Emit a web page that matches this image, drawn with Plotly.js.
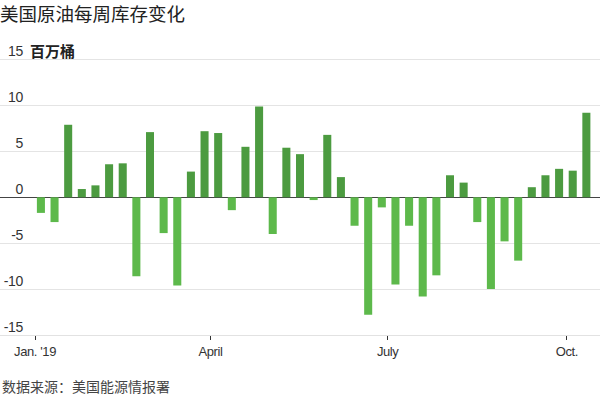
<!DOCTYPE html>
<html>
<head>
<meta charset="utf-8">
<script src="https://cdn.plot.ly/plotly-3.0.1.min.js"></script>
<style>
  html, body { margin: 0; padding: 0; background: #fff; }
  #chart { width: 600px; height: 399px; }
  #chart .xtick text { letter-spacing: -0.4px; }
  #chart .y2tick text { letter-spacing: -0.3px; }
</style>
</head>
<body>
<div id="chart"></div>
<script>
// Week-ending dates (EIA weekly report)
const weeks = [
  '2019-01-04','2019-01-11','2019-01-18','2019-01-25',
  '2019-02-01','2019-02-08','2019-02-15','2019-02-22',
  '2019-03-01','2019-03-08','2019-03-15','2019-03-22','2019-03-29',
  '2019-04-05','2019-04-12','2019-04-19','2019-04-26',
  '2019-05-03','2019-05-10','2019-05-17','2019-05-24','2019-05-31',
  '2019-06-07','2019-06-14','2019-06-21','2019-06-28',
  '2019-07-05','2019-07-12','2019-07-19','2019-07-26',
  '2019-08-02','2019-08-09','2019-08-16','2019-08-23','2019-08-30',
  '2019-09-06','2019-09-13','2019-09-20','2019-09-27',
  '2019-10-04','2019-10-11'
];
// Weekly change in US crude inventories, million barrels
const changes = [
  -1.7, -2.7, 7.9, 0.9,
  1.3, 3.6, 3.7, -8.6,
  7.1, -3.9, -9.6, 2.8, 7.2,
  7.0, -1.4, 5.5, 9.9,
  -4.0, 5.4, 4.7, -0.3, 6.8,
  2.2, -3.1, -12.8, -1.1,
  -9.5, -3.1, -10.8, -8.5,
  2.4, 1.6, -2.7, -10.0, -4.8,
  -6.9, 1.1, 2.4, 3.1,
  2.9, 9.2
];
const yTickVals = [-15, -10, -5, 0, 5, 10, 15];
const yTickText = ['-15', '-10', '-5', '0', '5', '10', '15'];
const xTickVals = ['2019-01-01', '2019-04-01', '2019-07-01', '2019-10-01'];
const xTickText = ["Jan. '19", 'April', 'July', 'Oct.'];

const titleText = '美国原油每周库存变化';
const unitText = '百万桶';
const sourceText = '数据来源：美国能源情报署';

const POS = '#4c9b40';
const NEG = '#5db94b';
const latin = "'Liberation Sans', Arial, sans-serif";
const cjk = "'Noto Sans CJK SC', 'Noto Sans', sans-serif";

const bars = {
  type: 'bar',
  x: weeks,
  y: changes,
  marker: { color: changes.map(v => v >= 0 ? POS : NEG), line: { width: 0 } },
  hoverinfo: 'x+y',
  showlegend: false
};
// invisible helper so the label axis is rendered
const labelAxisHelper = {
  type: 'scatter', mode: 'markers',
  x: [weeks[0]], y: [0], yaxis: 'y2',
  marker: { opacity: 0 }, hoverinfo: 'skip', showlegend: false
};

const yRange = [-15, 15.5];

const layout = {
  width: 600, height: 399,
  margin: { l: 0, r: 0, t: 55, b: 64, pad: 0 },
  paper_bgcolor: '#fff', plot_bgcolor: '#fff',
  bargap: 0.41,
  font: { family: latin, size: 13, color: '#333' },
  title: {
    text: titleText,
    font: { family: cjk, size: 18.5, color: '#222' },
    x: 0, xanchor: 'left', xref: 'paper',
    y: 1 - 15 / 399, yanchor: 'middle', yref: 'container'
  },
  xaxis: {
    type: 'date',
    range: ['2018-12-14', '2019-10-18'],
    tickvals: xTickVals, ticktext: xTickText,
    ticks: 'outside', ticklen: 4, tickwidth: 1, tickcolor: '#333',
    showgrid: false, zeroline: false,
    showline: true, linecolor: '#e2e2e2', linewidth: 1,
    tickfont: { family: latin, size: 13, color: '#333' },
    fixedrange: true
  },
  yaxis: {
    range: yRange,
    tickvals: yTickVals,
    showticklabels: false, ticks: '',
    showgrid: true, gridcolor: '#e4e4e4', gridwidth: 1,
    zeroline: true, zerolinecolor: '#444', zerolinewidth: 1.5,
    showline: false, fixedrange: true
  },
  yaxis2: {
    overlaying: 'y', anchor: 'free', position: 0.04, side: 'left',
    range: yRange,
    tickvals: yTickVals, ticktext: yTickText,
    ticks: '', showgrid: false, zeroline: false, showline: false,
    ticklabelshift: -8, ticklabelstandoff: 1,
    tickfont: { family: latin, size: 14, color: '#333' },
    fixedrange: true
  },
  annotations: [
    {
      text: unitText, xref: 'paper', x: 28 / 600, xanchor: 'left',
      yref: 'y', y: 15, yanchor: 'bottom', yshift: -3,
      showarrow: false,
      font: { family: cjk, size: 15, color: '#222', weight: 'bold' }
    },
    {
      text: sourceText, xref: 'paper', x: 0, xanchor: 'left',
      yref: 'paper', y: -51 / 280, yanchor: 'middle',
      showarrow: false,
      font: { family: cjk, size: 14, color: '#444' }
    }
  ]
};

Plotly.newPlot('chart', [bars, labelAxisHelper], layout, { displayModeBar: false, staticPlot: true });
</script>
</body>
</html>
